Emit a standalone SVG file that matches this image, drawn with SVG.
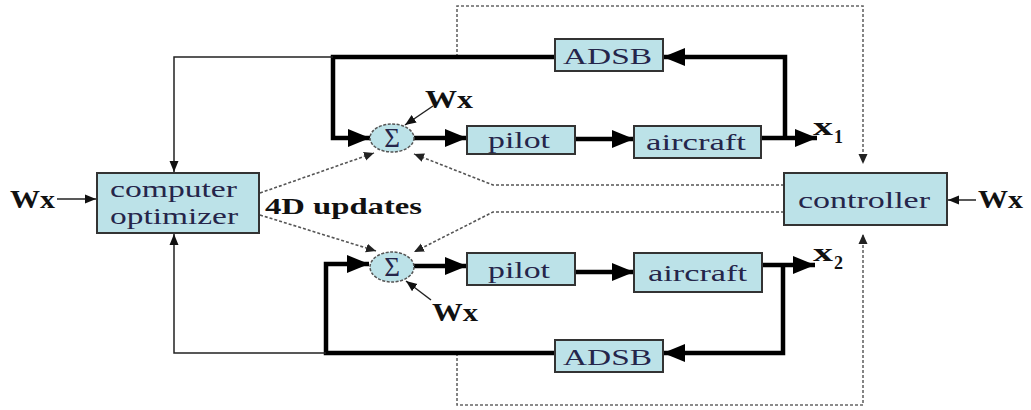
<svg xmlns="http://www.w3.org/2000/svg" width="1031" height="410" viewBox="0 0 1031 410">
<defs>
<style>
.box{fill:#bce2e8;stroke:#333;stroke-width:2}
.sum{fill:#bce2e8;stroke:#555;stroke-width:1.5;stroke-dasharray:3,1.5}
.bt{font-family:"Liberation Serif",serif;font-size:24px;fill:#25254a}
.sg{font-family:"Liberation Serif",serif;font-size:27px;fill:#25254a}
.lbl{font-family:"Liberation Serif",serif;font-size:26px;font-weight:bold;fill:#111}
.sub{font-family:"Liberation Serif",serif;font-size:18px;font-weight:bold;fill:#111}
.thick{fill:none;stroke:#000;stroke-width:4.5}
.thin{fill:none;stroke:#222;stroke-width:1.5}
.dot{fill:none;stroke:#555;stroke-width:1.6;stroke-dasharray:3,2}
.frame{fill:none;stroke:#666;stroke-width:1.6;stroke-dasharray:3,2}
</style>
<marker id="ah" markerUnits="userSpaceOnUse" markerWidth="24" markerHeight="20" refX="22" refY="10" orient="auto"><path d="M0,1 L22,10 L0,19 z" fill="#000"/></marker>
<marker id="as" markerUnits="userSpaceOnUse" markerWidth="12" markerHeight="10" refX="11" refY="5" orient="auto"><path d="M0,0.5 L11,5 L0,9.5 z" fill="#111"/></marker>
<marker id="ad" markerUnits="userSpaceOnUse" markerWidth="12" markerHeight="10" refX="10" refY="5" orient="auto"><path d="M0,0.5 L10,5 L0,9.5 z" fill="#222"/></marker>
</defs>
<rect width="1031" height="410" fill="#fff"/>
<g id="connectors">
<path class="frame" d="M457,57 V6 H863 V164" marker-end="url(#ad)"/>
<path class="frame" d="M457,353 V405 H863 V234" marker-end="url(#ad)"/>
<path class="dot" d="M784,185 H493 L414,154" marker-end="url(#ad)"/>
<path class="dot" d="M784,212 H493 L414,252" marker-end="url(#ad)"/>
<path class="dot" d="M260,193 L374,153" marker-end="url(#ad)"/>
<path class="dot" d="M260,215 L376,251" marker-end="url(#ad)"/>
<path class="thick" d="M761,138 H817" marker-end="url(#ah)"/>
<path class="thick" d="M785,138 V57 H663" marker-end="url(#ah)"/>
<path class="thick" d="M555,57 H333 V138 H370" marker-end="url(#ah)"/>
<path class="thin" d="M333,57 H174 V172" marker-end="url(#as)"/>
<path class="thick" d="M414,138 H467" marker-end="url(#ah)"/>
<path class="thick" d="M575,139 H634" marker-end="url(#ah)"/>
<path class="thick" d="M762,265 H815" marker-end="url(#ah)"/>
<path class="thick" d="M783,265 V353 H663" marker-end="url(#ah)"/>
<path class="thick" d="M555,353 H326 V264 H369" marker-end="url(#ah)"/>
<path class="thin" d="M326,353 H174 V234" marker-end="url(#as)"/>
<path class="thick" d="M414,266 H467" marker-end="url(#ah)"/>
<path class="thick" d="M575,272 H634" marker-end="url(#ah)"/>
<path class="thin" d="M57,199 H96" marker-end="url(#as)"/>
<path class="thin" d="M976,200 H948" marker-end="url(#as)"/>
<path class="thin" d="M433,106 L405,125" marker-end="url(#as)"/>
<path class="thin" d="M431,300 L406,281" marker-end="url(#as)"/>
</g>
<g id="optimizer">
<rect class="box" x="97" y="173" width="162" height="60"/>
<text class="bt" x="110" y="197" textLength="127" lengthAdjust="spacingAndGlyphs">computer</text>
<text class="bt" x="110" y="224" textLength="128" lengthAdjust="spacingAndGlyphs">optimizer</text>
</g>
<g id="controller">
<rect class="box" x="784" y="173" width="163" height="52"/>
<text class="bt" x="798" y="208" textLength="132" lengthAdjust="spacingAndGlyphs">controller</text>
</g>
<g id="adsb1">
<rect class="box" x="555" y="39" width="108" height="32"/>
<text class="bt" x="563" y="64" textLength="89" lengthAdjust="spacingAndGlyphs">ADSB</text>
</g>
<g id="adsb2">
<rect class="box" x="555" y="340" width="108" height="32"/>
<text class="bt" x="563" y="365" textLength="89" lengthAdjust="spacingAndGlyphs">ADSB</text>
</g>
<g id="sum1">
<ellipse class="sum" cx="392" cy="138" rx="22" ry="14"/>
<text class="sg" x="392" y="147" text-anchor="middle">Σ</text>
</g>
<g id="sum2">
<ellipse class="sum" cx="392" cy="267" rx="22" ry="15"/>
<text class="sg" x="392" y="276" text-anchor="middle">Σ</text>
</g>
<g id="pilot1">
<rect class="box" x="467" y="126" width="108" height="28"/>
<text class="bt" x="488" y="148" textLength="62" lengthAdjust="spacingAndGlyphs">pilot</text>
</g>
<g id="aircraft1">
<rect class="box" x="634" y="126" width="127" height="32"/>
<text class="bt" x="646" y="150" textLength="100" lengthAdjust="spacingAndGlyphs">aircraft</text>
</g>
<g id="pilot2">
<rect class="box" x="467" y="253" width="108" height="32"/>
<text class="bt" x="488" y="278" textLength="62" lengthAdjust="spacingAndGlyphs">pilot</text>
</g>
<g id="aircraft2">
<rect class="box" x="634" y="253" width="128" height="39"/>
<text class="bt" x="648" y="281" textLength="99" lengthAdjust="spacingAndGlyphs">aircraft</text>
</g>
<g id="labels">
<text class="lbl" x="10" y="208" textLength="45" lengthAdjust="spacingAndGlyphs">Wx</text>
<text class="lbl" x="978" y="208" textLength="45" lengthAdjust="spacingAndGlyphs">Wx</text>
<text class="lbl" x="425" y="108" textLength="48" lengthAdjust="spacingAndGlyphs">Wx</text>
<text class="lbl" x="432" y="321" textLength="46" lengthAdjust="spacingAndGlyphs">Wx</text>
<text class="lbl" x="265" y="214" style="font-size:24px" textLength="157" lengthAdjust="spacingAndGlyphs">4D updates</text>
<text class="lbl" x="813" y="135" textLength="20" lengthAdjust="spacingAndGlyphs">x</text>
<text class="sub" x="834" y="143">1</text>
<text class="lbl" x="813" y="261" textLength="20" lengthAdjust="spacingAndGlyphs">x</text>
<text class="sub" x="834" y="269">2</text>
</g>
</svg>
